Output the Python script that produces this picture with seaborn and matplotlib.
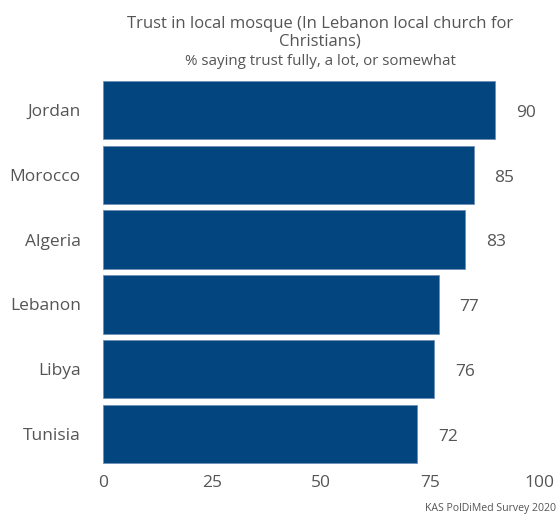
import matplotlib
matplotlib.use("Agg")
import matplotlib.pyplot as plt
import seaborn as sns
import pandas as pd

countries = ["Jordan", "Morocco", "Algeria", "Lebanon", "Libya", "Tunisia"]
trust_pct = [90, 85, 83, 77, 76, 72]
x_ticks = [0, 25, 50, 75, 100]

title_main = "Trust in local mosque (In Lebanon local church for\nChristians)"
title_sub = "% saying trust fully, a lot, or somewhat"
source = "KAS PolDiMed Survey 2020"

bar_color = "#03457f"
text_color = "#555555"

sns.set_theme(style="white")
plt.rcParams["font.family"] = ["Open Sans", "DejaVu Sans"]

df = pd.DataFrame({"country": countries, "value": trust_pct})

fig = plt.figure(figsize=(5.59, 5.21), dpi=100)
ax = fig.add_axes([103 / 559, 1 - 466.5 / 521, (539 - 103) / 559, (466.5 - 77.5) / 521])

sns.barplot(data=df, x="value", y="country", order=countries, color=bar_color,
            saturation=1, width=0.9, edgecolor="#6f8fb5", linewidth=0.6, ax=ax)

for i, v in enumerate(trust_pct):
    ax.annotate(f"{v}", xy=(v, i), xytext=(15, -2), textcoords="offset points",
                ha="left", va="center", fontsize=12.5, color=text_color)

ax.set_xlim(0, 100)
ax.set_ylim(5.5, -0.5)
ax.set_xticks(x_ticks)
ax.set_xticklabels([str(t) for t in x_ticks])
ax.set_xlabel("")
ax.set_ylabel("")
ax.tick_params(axis="both", length=0, labelsize=12.5, labelcolor=text_color)
ax.tick_params(axis="y", pad=16)
ax.tick_params(axis="x", pad=6)
for s in ax.spines.values():
    s.set_visible(False)

fig.text(320 / 559, 1 - 16 / 521, title_main, ha="center", va="top",
         fontsize=12, color=text_color, linespacing=1.15)
fig.text(320 / 559, 1 - 54 / 521, title_sub, ha="center", va="top",
         fontsize=10.9, color=text_color)
fig.text(0.995, 1 - 508 / 521, source, ha="right", va="center",
         fontsize=7.6, color=text_color)

fig.savefig("out.png", dpi=100)
